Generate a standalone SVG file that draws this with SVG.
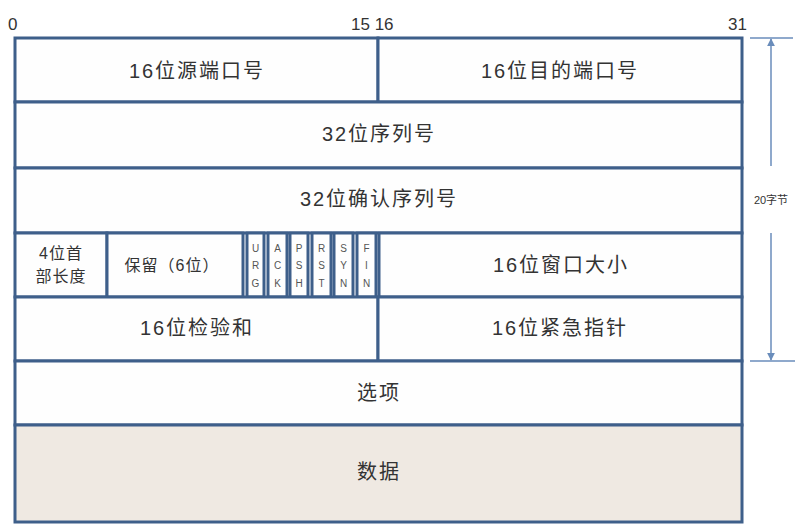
<svg xmlns="http://www.w3.org/2000/svg" width="809" height="531" viewBox="0 0 809 531">
<style>
.cell{fill:#fefefe;stroke:#3e5f8a;stroke-width:3}
.data{fill:#efe9e2;stroke:#3e5f8a;stroke-width:3}
.t{font-family:"Liberation Sans","Noto Sans CJK SC",sans-serif;font-size:20px;fill:#333;text-anchor:middle;dominant-baseline:central;letter-spacing:2px}
.s{font-family:"Liberation Sans","Noto Sans CJK SC",sans-serif;font-size:16px;fill:#333;text-anchor:middle;dominant-baseline:central;letter-spacing:1px}
.f{font-family:"Liberation Sans","Noto Sans CJK SC",sans-serif;font-size:10px;fill:#555;text-anchor:middle;dominant-baseline:central}
.n{font-family:"Liberation Sans","Noto Sans CJK SC",sans-serif;font-size:17px;fill:#333}
.a{stroke:#6a8dbb;stroke-width:1.5;fill:none}
</style>
<defs>
<marker id="ah" viewBox="0 0 10 10" refX="9" refY="5" markerWidth="8" markerHeight="8" orient="auto-start-reverse" markerUnits="userSpaceOnUse">
<path d="M0,0 L10,5 L0,10 z" fill="#6a8dbb"/>
</marker>
</defs>
<rect width="809" height="531" fill="#ffffff"/>
<g id="bits">
<text class="n" x="8" y="30">0</text>
<text class="n" x="351" y="30">15 16</text>
<text class="n" x="728" y="30">31</text>
</g>
<g id="src-port"><rect class="cell" x="15" y="38" width="363" height="64"/><text class="t" x="197" y="71">16位源端口号</text></g>
<g id="dst-port"><rect class="cell" x="378" y="38" width="364" height="64"/><text class="t" x="560" y="71">16位目的端口号</text></g>
<g id="seq"><rect class="cell" x="15" y="102" width="727" height="66"/><text class="t" x="379" y="134">32位序列号</text></g>
<g id="ack"><rect class="cell" x="15" y="168" width="727" height="65"/><text class="t" x="379" y="199">32位确认序列号</text></g>
<g id="hdr-len"><rect class="cell" x="15" y="233" width="92" height="64"/><text class="s" x="61" y="253">4位首</text><text class="s" x="61" y="276">部长度</text></g>
<g id="reserved"><rect class="cell" x="107" y="233" width="136" height="64"/><text class="s" x="172" y="265">保留（6位）</text></g>
<g id="urg"><rect class="cell" x="247" y="233" width="17" height="64"/><text class="f" x="255.5" y="248">U</text><text class="f" x="255.5" y="265">R</text><text class="f" x="255.5" y="283">G</text></g>
<g id="ackf"><rect class="cell" x="268" y="233" width="19" height="64"/><text class="f" x="277.5" y="248">A</text><text class="f" x="277.5" y="265">C</text><text class="f" x="277.5" y="283">K</text></g>
<g id="psh"><rect class="cell" x="290" y="233" width="18" height="64"/><text class="f" x="299" y="248">P</text><text class="f" x="299" y="265">S</text><text class="f" x="299" y="283">H</text></g>
<g id="rst"><rect class="cell" x="312" y="233" width="19" height="64"/><text class="f" x="321.5" y="248">R</text><text class="f" x="321.5" y="265">S</text><text class="f" x="321.5" y="283">T</text></g>
<g id="syn"><rect class="cell" x="334" y="233" width="19" height="64"/><text class="f" x="343.5" y="248">S</text><text class="f" x="343.5" y="265">Y</text><text class="f" x="343.5" y="283">N</text></g>
<g id="fin"><rect class="cell" x="357" y="233" width="19" height="64"/><text class="f" x="366.5" y="248">F</text><text class="f" x="366.5" y="265">I</text><text class="f" x="366.5" y="283">N</text></g>
<g id="window"><rect class="cell" x="379" y="233" width="363" height="64"/><text class="t" x="561" y="265">16位窗口大小</text></g>
<g id="checksum"><rect class="cell" x="15" y="297" width="363" height="64"/><text class="t" x="197" y="328">16位检验和</text></g>
<g id="urgent"><rect class="cell" x="378" y="297" width="364" height="64"/><text class="t" x="560" y="328">16位紧急指针</text></g>
<g id="options"><rect class="cell" x="15" y="361" width="727" height="64"/><text class="t" x="379" y="393">选项</text></g>
<g id="data"><rect class="data" x="15" y="425" width="727" height="97"/><text class="t" x="379" y="472">数据</text></g>
<g id="connectors">
<line class="a" x1="750" y1="38" x2="793" y2="38"/>
<line class="a" x1="750" y1="361" x2="795" y2="361"/>
<line class="a" x1="771" y1="166" x2="771" y2="39" marker-end="url(#ah)"/>
<line class="a" x1="771" y1="233" x2="771" y2="360" marker-end="url(#ah)"/>
<text class="f" x="771" y="200" style="font-size:11px;fill:#333">20字节</text>
</g>
</svg>
